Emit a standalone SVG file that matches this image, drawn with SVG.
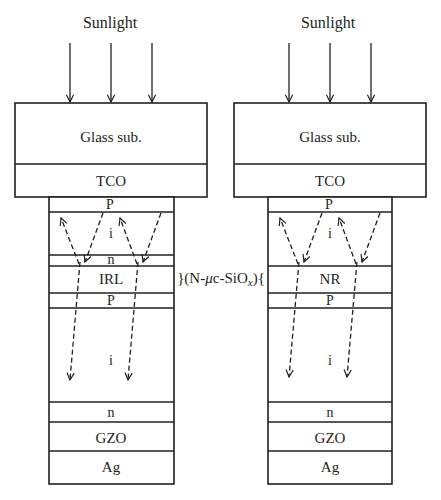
<svg xmlns="http://www.w3.org/2000/svg" width="441" height="500" viewBox="0 0 441 500">
<defs>
<style>
.box{fill:#fff;stroke:#231f20;stroke-width:1.6}
.ln{stroke:#231f20;stroke-width:1.4}
.t{font-family:"Liberation Serif",serif;fill:#231f20;text-anchor:middle}
.sun{stroke:#231f20;stroke-width:1.3;fill:none}
.ray{stroke:#231f20;stroke-width:1.3;stroke-dasharray:5,3;fill:none}
</style>
<marker id="ah" viewBox="0 0 10 10" refX="9" refY="5" markerWidth="9" markerHeight="9" markerUnits="userSpaceOnUse" orient="auto">
<path d="M1,1 L9,5 L1,9" fill="none" stroke="#231f20" stroke-width="1.3"/>
</marker>
</defs>
<rect width="441" height="500" fill="#fff"/>

<g id="left-cell">
<text class="t" x="110" y="28" font-size="16">Sunlight</text>
<rect class="box" x="15" y="103" width="192" height="94"/>
<line class="ln" x1="15" y1="164" x2="207" y2="164"/>
<text class="t" x="111" y="142" font-size="15">Glass sub.</text>
<text class="t" x="111" y="186" font-size="15">TCO</text>
<rect class="box" x="49" y="197" width="125" height="287"/>
<line class="ln" x1="49" y1="212" x2="174" y2="212"/>
<line class="ln" x1="49" y1="255" x2="174" y2="255"/>
<line class="ln" x1="49" y1="266" x2="174" y2="266"/>
<line class="ln" x1="49" y1="293" x2="174" y2="293"/>
<line class="ln" x1="49" y1="308" x2="174" y2="308"/>
<line class="ln" x1="49" y1="402" x2="174" y2="402"/>
<line class="ln" x1="49" y1="422" x2="174" y2="422"/>
<line class="ln" x1="49" y1="451" x2="174" y2="451"/>
<text class="t" x="110" y="209" font-size="14">P</text>
<text class="t" x="111" y="238" font-size="14">i</text>
<text class="t" x="111" y="264" font-size="14">n</text>
<text class="t" x="111" y="284" font-size="15">IRL</text>
<text class="t" x="111" y="305" font-size="14">P</text>
<text class="t" x="111" y="365" font-size="14">i</text>
<text class="t" x="111" y="417" font-size="14">n</text>
<text class="t" x="111" y="443" font-size="15">GZO</text>
<text class="t" x="111" y="472" font-size="15">Ag</text>
</g>

<g id="right-cell">
<text class="t" x="328" y="28" font-size="16">Sunlight</text>
<rect class="box" x="234" y="103" width="192" height="94"/>
<line class="ln" x1="234" y1="164" x2="426" y2="164"/>
<text class="t" x="330" y="142" font-size="15">Glass sub.</text>
<text class="t" x="330" y="186" font-size="15">TCO</text>
<rect class="box" x="268" y="197" width="124" height="287"/>
<line class="ln" x1="268" y1="212" x2="392" y2="212"/>
<line class="ln" x1="268" y1="266" x2="392" y2="266"/>
<line class="ln" x1="268" y1="293" x2="392" y2="293"/>
<line class="ln" x1="268" y1="308" x2="392" y2="308"/>
<line class="ln" x1="268" y1="402" x2="392" y2="402"/>
<line class="ln" x1="268" y1="422" x2="392" y2="422"/>
<line class="ln" x1="268" y1="451" x2="392" y2="451"/>
<text class="t" x="329" y="209" font-size="14">P</text>
<text class="t" x="330" y="238" font-size="14">i</text>
<text class="t" x="330" y="284" font-size="15">NR</text>
<text class="t" x="330" y="305" font-size="14">P</text>
<text class="t" x="330" y="365" font-size="14">i</text>
<text class="t" x="330" y="417" font-size="14">n</text>
<text class="t" x="330" y="443" font-size="15">GZO</text>
<text class="t" x="330" y="472" font-size="15">Ag</text>
</g>

<g id="label-layer">
<text class="t" x="221" y="283" font-size="15">}(N-<tspan font-style="italic">μ</tspan>c-SiO<tspan font-style="italic" font-size="11" dy="3">x</tspan><tspan dy="-3">)</tspan>{</text>
</g>

<g id="connectors">
<line class="sun" x1="70" y1="43" x2="70" y2="102" marker-end="url(#ah)"/>
<line class="sun" x1="111" y1="43" x2="111" y2="102" marker-end="url(#ah)"/>
<line class="sun" x1="152" y1="43" x2="152" y2="102" marker-end="url(#ah)"/>
<line class="sun" x1="289" y1="43" x2="289" y2="102" marker-end="url(#ah)"/>
<line class="sun" x1="330" y1="43" x2="330" y2="102" marker-end="url(#ah)"/>
<line class="sun" x1="371" y1="43" x2="371" y2="102" marker-end="url(#ah)"/>

<line class="ray" x1="103" y1="213" x2="85" y2="262" marker-end="url(#ah)"/>
<line class="ray" x1="79" y1="264" x2="61" y2="218" marker-end="url(#ah)"/>
<line class="ray" x1="80" y1="262" x2="70" y2="380" marker-end="url(#ah)"/>
<line class="ray" x1="161" y1="213" x2="143" y2="262" marker-end="url(#ah)"/>
<line class="ray" x1="137" y1="264" x2="120" y2="218" marker-end="url(#ah)"/>
<line class="ray" x1="138" y1="262" x2="128" y2="380" marker-end="url(#ah)"/>

<line class="ray" x1="322" y1="213" x2="304" y2="262" marker-end="url(#ah)"/>
<line class="ray" x1="298" y1="264" x2="280" y2="218" marker-end="url(#ah)"/>
<line class="ray" x1="299" y1="262" x2="289" y2="377" marker-end="url(#ah)"/>
<line class="ray" x1="380" y1="213" x2="362" y2="262" marker-end="url(#ah)"/>
<line class="ray" x1="356" y1="264" x2="339" y2="218" marker-end="url(#ah)"/>
<line class="ray" x1="357" y1="262" x2="347" y2="377" marker-end="url(#ah)"/>
</g>
</svg>
